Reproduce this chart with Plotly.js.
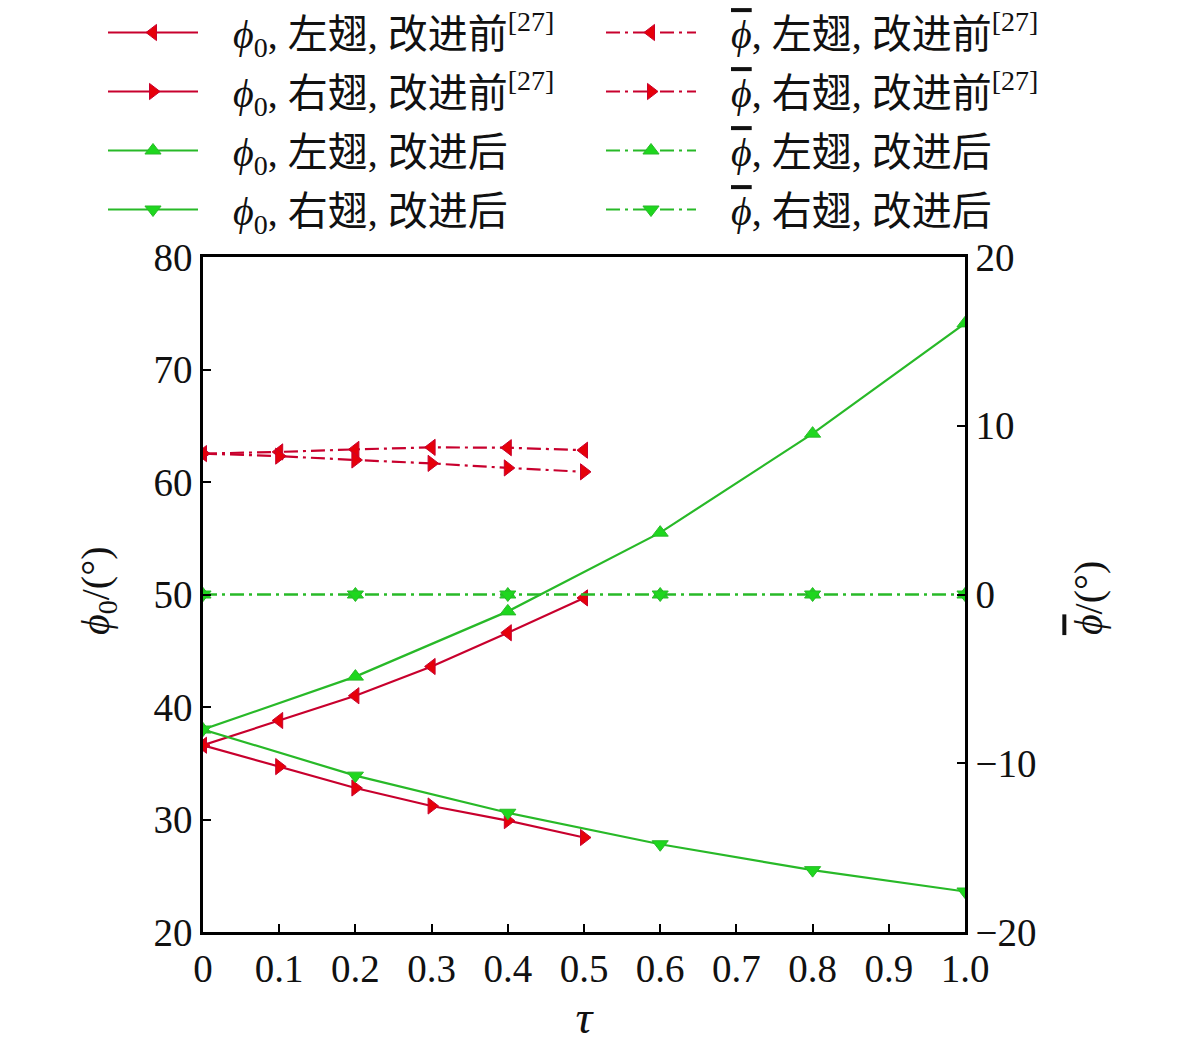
<!DOCTYPE html>
<html>
<head>
<meta charset="utf-8">
<script src="https://cdn.plot.ly/plotly-3.0.1.min.js"></script>
<style>
  body { margin: 0; background: #fff; }
  #chart { width: 1181px; height: 1043px; }
</style>
</head>
<body>
<div id="chart"></div>
<script>
// tau values
var tauBefore = [0, 0.1, 0.2, 0.3, 0.4, 0.5];
var tauAfter = [0, 0.2, 0.4, 0.6, 0.8, 1.0];

// phi_0 (left axis)
var phi0LeftBefore = [36.6, 38.8, 41.0, 43.6, 46.6, 49.7];
var phi0RightBefore = [36.6, 34.7, 32.8, 31.2, 29.9, 28.4];
var phi0LeftAfter = [38.0, 42.7, 48.5, 55.5, 64.3, 74.1];
var phi0RightAfter = [38.0, 33.9, 30.6, 27.8, 25.5, 23.6];

// phi bar (right axis)
var phiBarLeftBefore = [8.35, 8.45, 8.6, 8.72, 8.7, 8.55];
var phiBarRightBefore = [8.35, 8.2, 7.97, 7.77, 7.5, 7.27];
var phiBarLeftAfter = [0, 0, 0, 0, 0, 0];
var phiBarRightAfter = [0, 0, 0, 0, 0, 0];

var xTicks = [0, 0.1, 0.2, 0.3, 0.4, 0.5, 0.6, 0.7, 0.8, 0.9, 1.0];
var xTickText = ['0', '0.1', '0.2', '0.3', '0.4', '0.5', '0.6', '0.7', '0.8', '0.9', '1.0'];

var redLine = 'rgb(200,0,45)';
var redMark = 'rgb(230,0,10)';
var greenLine = 'rgb(40,185,40)';
var greenMark = 'rgb(30,215,30)';

var pad = '\u00a0\u00a0\u00a0';
var phi0 = '<i>ϕ</i><sub>0</sub>';
var phiBar = '<span style="text-decoration:overline"><i>ϕ</i></span>';
var dashDot = '14px,5px,3px,5px';

function trace(x, y, name, lineColor, markColor, symbol, dash, axis, leg, grp) {
    return {
        x: x,
        y: y,
        name: pad + name,
        type: 'scatter',
        mode: 'lines+markers',
        yaxis: axis,
        legend: leg,
        legendgroup: grp,
        line: {color: lineColor, width: 2.2, dash: dash},
        marker: {color: markColor, symbol: symbol, size: 14,
                 line: {color: lineColor, width: 1}}
    };
}

var data = [
    trace(tauBefore, phi0LeftBefore, phi0 + ', 左翅, 改进前<sup>[27]</sup>', redLine, redMark, 'triangle-left', 'solid', 'y', 'legend', 'a1'),
    trace(tauBefore, phi0RightBefore, phi0 + ', 右翅, 改进前<sup>[27]</sup>', redLine, redMark, 'triangle-right', 'solid', 'y', 'legend', 'a2'),
    trace(tauAfter, phi0LeftAfter, phi0 + ', 左翅, 改进后', greenLine, greenMark, 'triangle-up', 'solid', 'y', 'legend', 'a3'),
    trace(tauAfter, phi0RightAfter, phi0 + ', 右翅, 改进后', greenLine, greenMark, 'triangle-down', 'solid', 'y', 'legend', 'a4'),
    trace(tauBefore, phiBarLeftBefore, phiBar + ', 左翅, 改进前<sup>[27]</sup>', redLine, redMark, 'triangle-left', dashDot, 'y2', 'legend2', 'b1'),
    trace(tauBefore, phiBarRightBefore, phiBar + ', 右翅, 改进前<sup>[27]</sup>', redLine, redMark, 'triangle-right', dashDot, 'y2', 'legend2', 'b2'),
    trace(tauAfter, phiBarLeftAfter, phiBar + ', 左翅, 改进后', greenLine, greenMark, 'triangle-up', dashDot, 'y2', 'legend2', 'b3'),
    trace(tauAfter, phiBarRightAfter, phiBar + ', 右翅, 改进后', greenLine, greenMark, 'triangle-down', dashDot, 'y2', 'legend2', 'b4')
];

var font = 'Liberation Serif, Noto Sans CJK SC, serif';

function legendBox(xpx) {
    return {
        xref: 'container', yref: 'container',
        x: xpx / 1181, y: 1.012, xanchor: 'left', yanchor: 'top',
        itemwidth: 90,
        tracegroupgap: 4,
        font: {family: font, size: 40, color: '#111'},
        bgcolor: 'rgba(0,0,0,0)'
    };
}

// y-axis titles as paper annotations (fixed margins)
function sideTitle(text, x, y) {
    return {
        text: text, xref: 'paper', yref: 'paper', x: x, y: y,
        xanchor: 'center', yanchor: 'middle', textangle: -90,
        showarrow: false, font: {family: font, size: 40, color: '#111'}
    };
}

var layout = {
    width: 1181,
    height: 1043,
    margin: {l: 203, r: 216, t: 257, b: 111, autoexpand: false},
    paper_bgcolor: '#ffffff',
    plot_bgcolor: '#ffffff',
    font: {family: font, size: 39, color: '#111'},
    showlegend: true,
    legend: legendBox(103),
    legend2: legendBox(601),
    annotations: [
        sideTitle(phi0 + '/(°)', -0.138, 0.505),
        sideTitle(phiBar + '/(°)', 1.163, 0.495)
    ],
    xaxis: {
        range: [0, 1.0],
        tickvals: xTicks,
        ticktext: xTickText,
        ticks: 'inside', ticklen: 8, tickwidth: 2, tickcolor: '#000',
        showline: true, linecolor: '#000', linewidth: 2.5, mirror: true,
        showgrid: false, zeroline: false,
        title: {text: '<i>τ</i>'}
    },
    yaxis: {
        range: [20, 80],
        dtick: 10,
        ticks: 'inside', ticklen: 8, tickwidth: 2, tickcolor: '#000',
        showline: true, linecolor: '#000', linewidth: 2.5,
        showgrid: false, zeroline: false
    },
    yaxis2: {
        range: [-20, 20],
        dtick: 10,
        overlaying: 'y',
        side: 'right',
        ticks: 'inside', ticklen: 8, tickwidth: 2, tickcolor: '#000',
        showline: true, linecolor: '#000', linewidth: 2.5,
        showgrid: false, zeroline: false
    }
};

Plotly.newPlot('chart', data, layout, {displayModeBar: false});
</script>
</body>
</html>
